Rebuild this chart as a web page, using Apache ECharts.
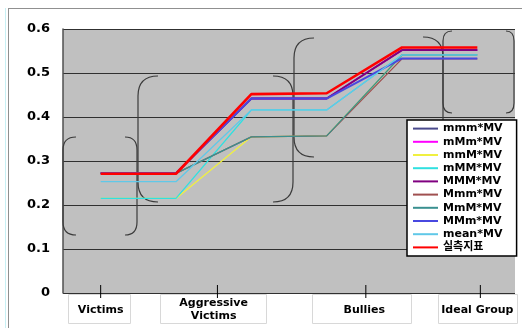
<!DOCTYPE html>
<html>
<head>
<meta charset="utf-8">
<script src="https://cdn.jsdelivr.net/npm/echarts@6/dist/echarts.min.js"></script>
<style>html,body{margin:0;padding:0;background:#fff}#c{width:522px;height:328px}</style>
</head>
<body>
<div id="c"></div>
<script>
// x positions: 6 points (start/end of each group's flat segment)
var xPoints = [0, 1, 2, 3, 4, 5];
var xLabelPos = [0, 1.5, 3.5, 5];
var xLabels = ['Victims', 'Aggressive\nVictims', 'Bullies', 'Ideal Group'];
var xTickPos = [0, 1.55, 3.52, 5.04];

var seriesNames = ['mmm*MV','mMm*MV','mmM*MV','mMM*MV','MMM*MV','Mmm*MV','MmM*MV','MMm*MV','mean*MV','실측지표'];
var mmm  = [0.272,0.272,0.442,0.442,0.552,0.552];
var mMm  = [0.272,0.272,0.442,0.442,0.552,0.552];
var mmM  = [0.215,0.215,0.355,0.357,0.541,0.541];
var mMM  = [0.215,0.215,0.416,0.416,0.541,0.541];
var MMM  = [0.272,0.272,0.442,0.442,0.552,0.552];
var Mmm  = [0.272,0.272,0.355,0.357,0.532,0.532];
var MmM  = [0.272,0.272,0.355,0.357,0.541,0.541];
var MMm  = [0.272,0.272,0.442,0.442,0.533,0.533];
var mean = [0.253,0.253,0.416,0.416,0.541,0.541];
var real = [0.271,0.271,0.452,0.454,0.558,0.558];
var allValues = [mmm, mMm, mmM, mMM, MMM, Mmm, MmM, MMm, mean, real];

var colors = ['#4a4a8c','#ff00ff','#f0f040','#30e0e0','#800080','#a05050','#3a9090','#4848e0','#60c8e8','#ff0000'];
var widths = [1.3,1.3,1.3,1.3,2,1.3,1.3,2,1.3,2.6];

var FONT = '"DejaVu Sans", "Noto Sans CJK KR", sans-serif';

var series = seriesNames.map(function (n, i) {
  return {
    name: n, type: 'line', symbol: 'none', silent: true,
    data: xPoints.map(function (x, j) { return [x, allValues[i][j]]; }),
    lineStyle: { color: colors[i], width: widths[i] },
    itemStyle: { color: colors[i] },
    z: 2
  };
});

// x-axis tick marks crossing the axis line, placed through the axis scale
series.push({
  type: 'custom', name: 'ticks', silent: true, clip: false, z: 3,
  data: xTickPos.map(function (x) { return [x, 0]; }),
  renderItem: function (params, api) {
    var p = api.coord([api.value(0), api.value(1)]);
    return { type: 'line', shape: { x1: p[0], y1: p[1] - 8, x2: p[0], y2: p[1] + 5 },
      style: { stroke: '#000', lineWidth: 1 } };
  }
});

var PSTYLE = { fill: null, stroke: '#3a3a3a', lineWidth: 1.2 };
// parenthesis decoration: tip x (xt), vertical x (xv), top y, bottom y, radius r
function paren(xt, xv, yt, yb, r) {
  return {
    type: 'group', silent: true, z: 1,
    children: [
      { type: 'bezierCurve', z: 1, shape: { x1: xt, y1: yt, cpx1: xv, cpy1: yt, x2: xv, y2: yt + r }, style: PSTYLE },
      { type: 'line', z: 1, shape: { x1: xv, y1: yt + r, x2: xv, y2: yb - r }, style: PSTYLE },
      { type: 'bezierCurve', z: 1, shape: { x1: xv, y1: yb - r, cpx1: xv, cpy1: yb, x2: xt, y2: yb }, style: PSTYLE }
    ]
  };
}
function box(x, y, w, h) {
  return { type: 'rect', z: -1, silent: true, shape: { x: x, y: y, width: w, height: h },
    style: { fill: '#fff', stroke: '#d8d8d8', lineWidth: 1 } };
}

var chart = echarts.init(document.getElementById('c'), null, { renderer: 'canvas' });
chart.setOption({
  animation: false,
  backgroundColor: '#fff',
  grid: { left: 63, top: 29, right: 7, bottom: 35, show: true, backgroundColor: '#c0c0c0', borderWidth: 0 },
  xAxis: {
    type: 'value', min: -0.5, max: 5.5,
    axisLine: { show: false, onZero: false },
    splitLine: { show: false },
    axisTick: { show: false },
    axisLabel: {
      customValues: xLabelPos,
      formatter: function (v) { var k = xLabelPos.indexOf(v); return k >= 0 ? xLabels[k] : ''; },
      fontFamily: FONT, fontWeight: 'bold', fontSize: 11, color: '#000',
      verticalAlign: 'middle', margin: 17, lineHeight: 13
    }
  },
  yAxis: {
    type: 'value', min: 0, max: 0.6, interval: 0.1,
    axisLine: { show: true, onZero: false, lineStyle: { color: '#505050', width: 1.5 } },
    axisTick: { show: false },
    splitLine: { show: true, lineStyle: { color: '#303030', width: 1 } },
    axisLabel: {
      formatter: function (v) { return v === 0 ? '0' : v.toFixed(1); },
      fontFamily: FONT, fontWeight: 'bold', fontSize: 13, color: '#000', margin: 13
    }
  },
  legend: {
    orient: 'vertical', left: 407, top: 120,
    data: seriesNames,
    backgroundColor: '#fff', borderColor: '#000', borderWidth: 1.5,
    padding: [3, 14, 3, 5],
    itemWidth: 25, itemHeight: 14, itemGap: 2,
    itemStyle: { opacity: 0 },
    textStyle: { fontFamily: FONT, fontWeight: 'bold', fontSize: 11, color: '#000' },
    selectedMode: false, z: 5
  },
  graphic: [
    { type: 'line', silent: true, shape: { x1: 8, y1: 8.5, x2: 522, y2: 8.5 }, style: { stroke: '#909090', lineWidth: 1 } },
    { type: 'line', silent: true, shape: { x1: 8.5, y1: 8, x2: 8.5, y2: 328 }, style: { stroke: '#909090', lineWidth: 1 } },
    { type: 'line', silent: true, shape: { x1: 5.5, y1: 8, x2: 5.5, y2: 328 }, style: { stroke: '#c8f0f4', lineWidth: 1 } },
    box(68.5, 294.5, 62, 29),
    box(160.5, 294.5, 106, 29),
    box(312.5, 294.5, 99, 29),
    box(438.5, 294.5, 79, 29),
    paren(76, 63, 137, 235, 13),
    paren(125, 137, 137, 235, 13),
    paren(158, 138, 76, 202, 20),
    paren(273, 293, 76, 202, 20),
    paren(314, 294, 38, 157, 20),
    paren(423, 443, 37, 157, 20),
    paren(452, 443, 31, 113, 10),
    paren(506, 514, 31, 113, 10)
  ],
  series: series
});
</script>
</body>
</html>
